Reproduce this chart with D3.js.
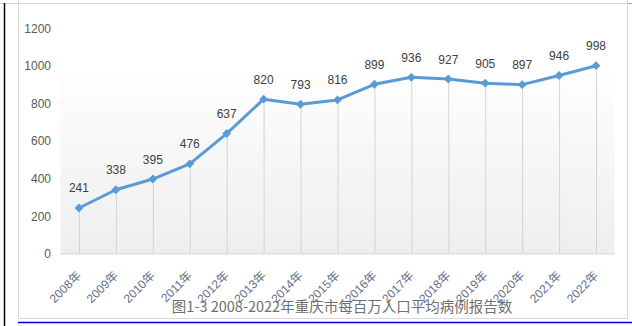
<!DOCTYPE html>
<html>
<head>
<meta charset="utf-8">
<script src="https://cdn.jsdelivr.net/npm/d3@7"></script>
<style>
  html, body { margin: 0; padding: 0; background: #ffffff; }
  svg { display: block; }
</style>
</head>
<body>
<svg id="chart" width="632" height="326"></svg>
<script>
// Reported cases per million residents, Chongqing, 2008–2022
const years = ["2008年","2009年","2010年","2011年","2012年","2013年","2014年","2015年",
               "2016年","2017年","2018年","2019年","2020年","2021年","2022年"];
const cases = [241, 338, 395, 476, 637, 820, 793, 816, 899, 936, 927, 905, 897, 946, 998];
const yTicks = [0, 200, 400, 600, 800, 1000, 1200];
const caption = "图1-3 2008-2022年重庆市每百万人口平均病例报告数";

const svg = d3.select("#chart");
const W = 632, H = 326;
const plot = { left: 60.5, right: 614.5, top: 27.7, bottom: 253.3 };

const x = d3.scaleBand().domain(years).range([plot.left, plot.right]);
const y = d3.scaleLinear().domain([0, 1200]).range([plot.bottom, plot.top]);
const cx = d => x(d) + x.bandwidth() / 2;

// page decorations around the embedded chart
svg.append("line").attr("x1", 0).attr("x2", W).attr("y1", 3.5).attr("y2", 3.5)
  .attr("stroke", "#d4d4d4").attr("stroke-width", 1);
svg.append("line").attr("x1", 4.5).attr("x2", 4.5).attr("y1", 3).attr("y2", H)
  .attr("stroke", "#000").attr("stroke-width", 1.5);
svg.append("line").attr("x1", 18.5).attr("x2", 18.5).attr("y1", 0).attr("y2", 4)
  .attr("stroke", "#d4d4d4");
svg.append("line").attr("x1", 627.5).attr("x2", 627.5).attr("y1", 0).attr("y2", 4)
  .attr("stroke", "#d4d4d4");
svg.append("line").attr("x1", 627).attr("x2", W).attr("y1", 3.5).attr("y2", 3.5)
  .attr("stroke", "#a0a0a0");
svg.append("line").attr("x1", 18).attr("x2", W).attr("y1", 322.5).attr("y2", 322.5)
  .attr("stroke", "#0000cc").attr("stroke-width", 1.5);

// chart border
svg.append("rect").attr("x", 18.5).attr("y", 3.5).attr("width", 609).attr("height", 315)
  .attr("fill", "#fff").attr("stroke", "#d9d9d9").attr("stroke-width", 1);

// plot area gradient
const defs = svg.append("defs");
const grad = defs.append("linearGradient").attr("id", "plotFill")
  .attr("x1", 0).attr("x2", 0).attr("y1", 0).attr("y2", 1);
grad.append("stop").attr("offset", "0%").attr("stop-color", "#ffffff");
grad.append("stop").attr("offset", "15%").attr("stop-color", "#ffffff");
grad.append("stop").attr("offset", "100%").attr("stop-color", "#eeeeee");
svg.append("rect").attr("x", plot.left).attr("y", plot.top)
  .attr("width", plot.right - plot.left).attr("height", plot.bottom - plot.top)
  .attr("fill", "url(#plotFill)");

// y axis labels
const yAxis = d3.axisLeft(y).tickValues(yTicks).tickSize(0).tickPadding(0).tickFormat(d3.format("d"));
const gy = svg.append("g").attr("transform", "translate(51,0)").call(yAxis);
gy.select(".domain").remove();
gy.selectAll("text").attr("font-family", "'Liberation Sans', Arial, sans-serif")
  .attr("font-size", 12).attr("fill", "#595959").attr("dy", "0.36em");

// drop lines from each point to the axis
svg.append("g").selectAll("line").data(years).join("line")
  .attr("x1", (d) => cx(d) + 0.5).attr("x2", (d) => cx(d) + 0.5)
  .attr("y1", (d, i) => y(cases[i])).attr("y2", plot.bottom)
  .attr("stroke", "#d4d4d4").attr("stroke-width", 1);

// x axis
const xAxis = d3.axisBottom(x).tickSize(0).tickPadding(0);
const gx = svg.append("g").attr("transform", `translate(0,${plot.bottom})`).call(xAxis);
gx.select(".domain").attr("stroke", "#d9d9d9").attr("stroke-width", 1.2);
gx.selectAll("text")
  .attr("font-family", "'Liberation Sans', 'Noto Sans CJK SC', sans-serif")
  .attr("font-size", 12).attr("fill", "#66708a")
  .attr("text-anchor", "end")
  .attr("dy", null).attr("y", 0)
  .attr("transform", "translate(3,23) rotate(-45)");

// series line
const line = d3.line().x((d, i) => cx(years[i])).y(d => y(d));
svg.append("path").datum(cases).attr("d", line)
  .attr("fill", "none").attr("stroke", "#5b9bd5").attr("stroke-width", 3)
  .attr("stroke-linejoin", "round").attr("stroke-linecap", "round");

// diamond markers
const diamond = d3.symbol().type(d3.symbolDiamond2).size(50);
svg.append("g").selectAll("path").data(cases).join("path")
  .attr("d", diamond)
  .attr("transform", (d, i) => `translate(${cx(years[i])},${y(d)})`)
  .attr("fill", "#5b9bd5");

// value labels
svg.append("g").selectAll("text").data(cases).join("text")
  .attr("x", (d, i) => cx(years[i]))
  .attr("y", d => y(d) - 15.5)
  .attr("text-anchor", "middle")
  .attr("font-family", "'Liberation Sans', Arial, sans-serif")
  .attr("font-size", 12).attr("fill", "#404040")
  .text(d => d);

// caption
svg.append("text").attr("x", 342).attr("y", 312)
  .attr("text-anchor", "middle")
  .attr("font-family", "'Noto Sans CJK SC', sans-serif")
  .attr("font-size", 14.5).attr("fill", "#707070")
  .text(caption);
</script>
</body>
</html>
